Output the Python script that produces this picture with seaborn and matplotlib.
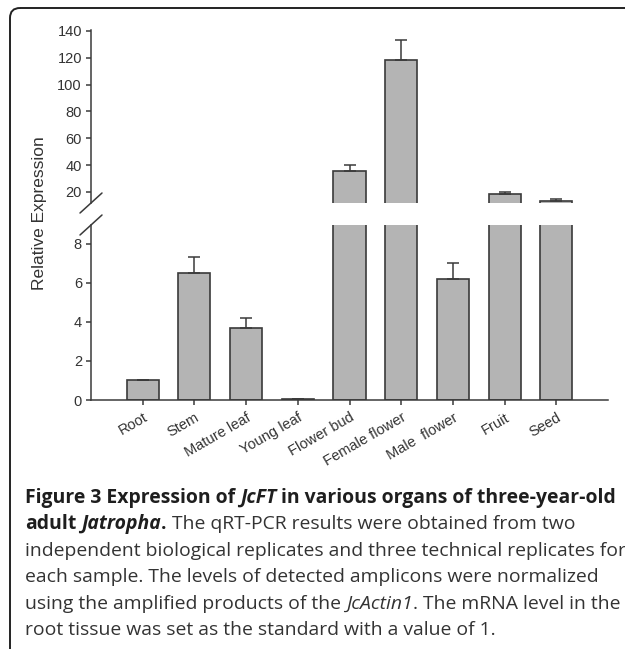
import numpy as np
import pandas as pd
import matplotlib
matplotlib.use("Agg")
import matplotlib.pyplot as plt
import seaborn as sns
from matplotlib.patches import FancyBboxPatch
from matplotlib.lines import Line2D

# ---------------- data ----------------
categories = ["Root", "Stem", "Mature leaf", "Young leaf", "Flower bud",
              "Female flower", "Male  flower", "Fruit", "Seed"]
expression = [1.0, 6.53, 3.67, 0.03, 35.9, 118.2, 6.22, 18.3, 13.3]
error_up = [0.0, 0.80, 0.55, 0.02, 4.2, 15.1, 0.82, 1.9, 1.5]
upper_ticks = [20, 40, 60, 80, 100, 120, 140]
lower_ticks = [0, 2, 4, 6, 8]

caption_lines = [
    [("Figure 3 Expression of ", "bold", "normal"), ("JcFT", "bold", "italic"),
     (" in various organs of three-year-old", "bold", "normal")],
    [("adult ", "bold", "normal"), ("Jatropha", "bold", "italic"), (".", "bold", "normal"),
     (" The qRT-PCR results were obtained from two", "normal", "normal")],
    [("independent biological replicates and three technical replicates for", "normal", "normal")],
    [("each sample. The levels of detected amplicons were normalized", "normal", "normal")],
    [("using the amplified products of the ", "normal", "normal"), ("JcActin1", "normal", "italic"),
     (". The mRNA level in the", "normal", "normal")],
    [("root tissue was set as the standard with a value of 1.", "normal", "normal")],
]

# ---------------- style ----------------
sns.set_theme(style="white")
plt.rcParams["font.family"] = ["Liberation Sans", "DejaVu Sans"]

W, H = 625, 649
fig = plt.figure(figsize=(W / 100, H / 100), dpi=100)
fig.patch.set_facecolor("white")

def frac_box(left, top, right, bottom):
    return [left / W, 1 - bottom / H, (right - left) / W, (bottom - top) / H]

ax_top = fig.add_axes(frac_box(91, 30, 608, 203))
ax_bot = fig.add_axes(frac_box(91, 225, 608, 400))

df = pd.DataFrame({"organ": categories, "expr": expression})
edge = "#3a3a3a"
txt = "#333333"
n = len(categories)
pos = np.arange(n)

for ax in (ax_top, ax_bot):
    sns.barplot(data=df, x="organ", y="expr", ax=ax, color="#b4b4b4", saturation=1,
                width=0.62, edgecolor=edge, linewidth=1.2, errorbar=None)
    ax.errorbar(pos, expression, yerr=[np.zeros(n), error_up], fmt="none",
                ecolor=edge, elinewidth=1.1, capsize=4, capthick=1.1)
    ax.set_xlim(-1, 9)
    ax.set_xlabel("")
    ax.set_ylabel("")
    ax.set_facecolor("none")
    for s in ("right", "top"):
        ax.spines[s].set_visible(False)
    for s in ("left", "bottom"):
        ax.spines[s].set_color(edge)
        ax.spines[s].set_linewidth(1.1)
    ax.tick_params(axis="y", left=True, direction="out", length=3.5, width=1.1,
                   color=edge, labelsize=10.5, labelcolor=txt, pad=3)

ax_top.set_ylim(11.8, 140.7)
ax_top.set_yticks(upper_ticks)
ax_top.spines["bottom"].set_visible(False)
ax_top.tick_params(axis="x", bottom=False, labelbottom=False)

ax_bot.set_ylim(0, 8.97)
ax_bot.set_yticks(lower_ticks)
ax_bot.set_xticks(pos)
ax_bot.set_xticklabels(categories, rotation=30, ha="right", rotation_mode="anchor")
ax_bot.tick_params(axis="x", bottom=True, direction="out", length=3.5, width=1.1,
                   color=edge, labelsize=10.5, labelcolor=txt, pad=4)

fig.text(40 / W, 1 - 213 / H, "Relative Expression", rotation=90, ha="center",
         va="center", fontsize=12.5, color=txt)

# ---------------- overlay (frame, break marks, caption) ----------------
ov = fig.add_axes([0, 0, 1, 1], zorder=5)
ov.set_xlim(0, W)
ov.set_ylim(H, 0)
ov.axis("off")
ov.patch.set_alpha(0)

frame = FancyBboxPatch((10, 8), 660, 700, boxstyle="round,pad=0,rounding_size=10",
                       fill=False, edgecolor="#222222", linewidth=1.4)
ov.add_patch(frame)

for (x1, y1, x2, y2) in [(80, 213, 102, 193), (80, 235, 102, 215)]:
    ov.add_line(Line2D([x1, x2], [y1, y2], color=edge, linewidth=1.1))

renderer = fig.canvas.get_renderer()
cap_font = ["Open Sans", "DejaVu Sans"]

def width_of(s, weight, style, size):
    t = fig.text(0, 0, "|" + s + "|", fontsize=size, fontweight=weight,
                 fontstyle=style, family=cap_font)
    w1 = t.get_window_extent(renderer).width
    t.remove()
    t = fig.text(0, 0, "||", fontsize=size, fontweight=weight,
                 fontstyle=style, family=cap_font)
    w0 = t.get_window_extent(renderer).width
    t.remove()
    return w1 - w0

def line_width(segs, size):
    return sum(width_of(s, w, st, size) for s, w, st in segs)

x0 = 25
target = 589
base_size = 11
size = base_size * target / line_width(caption_lines[0], base_size)

baseline0 = 503
spacing = 26.4
for i, segs in enumerate(caption_lines):
    x = x0
    y = baseline0 + i * spacing
    for s, w, st in segs:
        lead = s[: len(s) - len(s.lstrip())]
        core = s.strip()
        xl = x + (width_of(lead, w, st, size) if lead else 0)
        color = "#1e1e1e" if w == "bold" else "#333333"
        ov.text(xl, y, core, fontsize=size, fontweight=w, fontstyle=st,
                family=cap_font, color=color, ha="left", va="baseline")
        x += width_of(s, w, st, size)

fig.savefig("out.png", dpi=100)
